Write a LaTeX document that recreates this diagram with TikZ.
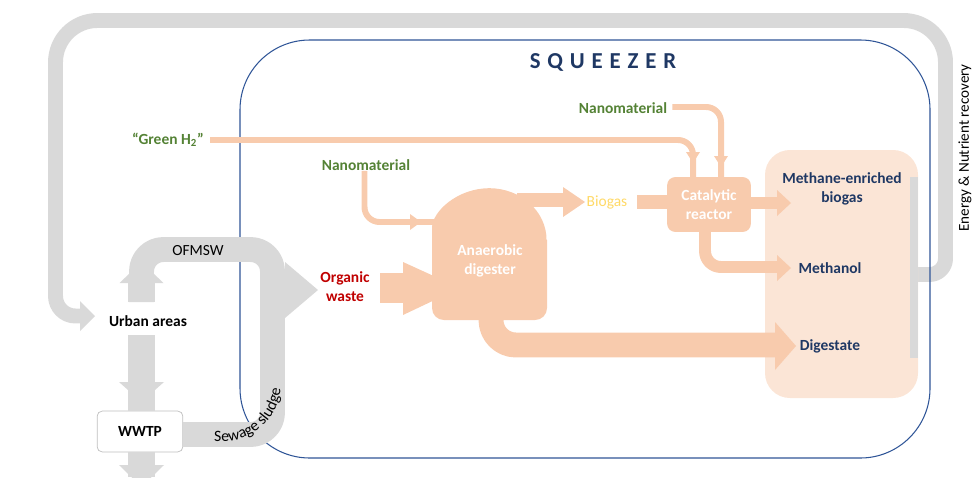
\documentclass[tikz,border=0pt]{standalone}
\usepackage{fontspec}
\setmainfont{Carlito}
\usetikzlibrary{decorations.text}
\definecolor{flowgray}{HTML}{D9D9D9}
\definecolor{peach}{HTML}{F8CBAD}
\definecolor{peachlight}{HTML}{FBE5D6}
\definecolor{leafgreen}{HTML}{548235}
\definecolor{wastered}{HTML}{C00000}
\definecolor{navy}{HTML}{1F3864}
\definecolor{gasyellow}{HTML}{FFD966}
\definecolor{rimblue}{HTML}{2F5597}
\newdimen\px \px=0.5669pt
\newcommand\headright[4]{\fill[#1] (#2) ++(-#3,-#4) -- (#2) -- ++(-#3,#4) -- cycle;}
\newcommand\headdown[4]{\fill[#1] (#2) ++(-#4,-#3) -- (#2) -- ++(#4,-#3) -- cycle;}
\newcommand\headup[4]{\fill[#1] (#2) ++(-#4,#3) -- (#2) -- ++(#4,#3) -- cycle;}
\tikzset{
  lbl/.style={inner sep=0pt, align=center, font=\fontsize{8.8}{10.8}\selectfont\bfseries},
  plain/.style={inner sep=0pt, font=\fontsize{8.8}{10.8}\selectfont},
  band/.style={draw=flowgray, line width=#1\px},
  pipe/.style={draw=peach, line width=#1\px},
}
\begin{document}
\begin{tikzpicture}[x=0.02cm, y=-0.02cm, line join=round]
\useasboundingbox (0,0) rectangle (972,477);
\path
  (945.5,274.5) coordinate (loopR)
  (55.5,316) coordinate (loopL)
  (95,316) coordinate (urbanIn)
  (141.5,302) coordinate (ofmswS)
  (318,290) coordinate (owTip)
  (491,320) coordinate (digS)
  (517,200) coordinate (digNE)
  (437,222) coordinate (digW)
  (460,288) coordinate (owIn)
  ;
% return loop
\draw[band=15, rounded corners=16\px] (910,274.5) -- (loopR) -- (945.5,70);
\draw[band=15, rounded corners=42\px] (945.5,80) -- (945.5,20.5) -- (55.5,20.5) -- (55.5,280);
\draw[band=15, rounded corners=20\px] (55.5,270) -- (loopL) -- (81,316);
\headright{flowgray}{urbanIn}{15}{15}
\node[rotate=90, plain, font=\fontsize{8.6}{10}\selectfont] (recovery) at (965,148) {Energy \& Nutrient recovery};
% squeezer frame
\draw[rimblue, line width=0.6pt, rounded corners=70\px] (240,40) rectangle (930,458);
\node[inner sep=0pt, text=navy, font=\fontsize{13}{15}\selectfont\bfseries\addfontfeatures{LetterSpace=30}] (title) at (603,62) {SQUEEZER};
% products
\fill[peachlight, rounded corners=25\px] (765,150) rectangle (918,398);
\fill[flowgray] (910,177) rectangle (918,358);
% urban side
\node[lbl] (urban) at (148,321) {Urban areas};
\node[draw=black!25, fill=white, rounded corners=5\px, minimum width=86\px, minimum height=41\px, lbl] (wwtp) at (140,431.5) {WWTP};
\draw[band=25, rounded corners=22\px] (ofmswS) -- (141.5,249.5) -- (272.5,249.5) -- (272.5,434.5) -- (wwtp.east |- 0,434.5);
\draw[band=27] (ofmswS) -- (141.5,283);
\headup{flowgray}{141.5,262}{21}{22}
\headright{flowgray}{owTip}{33}{28}
\draw[band=27] (141.5,335) -- (wwtp.north -| 141.5,0);
\headdown{flowgray}{141.5,402}{20}{22.5}
\draw[band=27] (wwtp.south -| 141.5,0) -- (141.5,477);
\headdown{flowgray}{141.5,487}{22}{22.5}
\node[plain] (ofmsw) at (198,251) {OFMSW};
\path[decorate, decoration={text along path, text align=left,
  text={|\fontsize{9}{10}\selectfont|Sewage sludge}}] (214,441) -- (224,441) arc (-90:0:57\px) -- (281,360);
% digester
\node[lbl, text=wastered] (waste) at (345,287) {Organic\\waste};
\fill[peach] (380,273) rectangle (405,303);
\fill[peach] (403,262) -- (owIn) -- (403,315) -- cycle;
\node[lbl, text=leafgreen] (nanoL) at (366,165) {Nanomaterial};
\draw[pipe=6, rounded corners=15\px] (nanoL.south -| 364.5,0) |- (digW);
\headright{peach}{421,222}{11}{8}
\draw[pipe=25, rounded corners=25\px] (digS) |- (776,345);
\headright{peach}{796,346}{21}{24}
\draw[pipe=14] (digNE) -- (565,200);
\headright{peach}{585,202}{22}{15}
\fill[peach, rounded corners=12\px] (547,240) -- (547,320) -- (432,320) -- (432,240) [sharp corners] arc[start angle=180, end angle=0, x radius=57.5\px, y radius=52\px] -- cycle;
\node[lbl, text=white] (digester) at (490,261) {Anaerobic\\digester};
\node[plain, text=gasyellow] (biogas) at (607,203) {Biogas};
% reactor
\node[lbl, text=white, fill=peach, rounded corners=8\px, minimum width=84\px, minimum height=55\px] (reactor) at (709,204.5) {Catalytic\\reactor};
\draw[pipe=15] (637,202) -- (reactor.west |- 0,202);
\node[lbl, text=leafgreen] (green) at (168,140) {“Green H\textsubscript{2}”};
\draw[pipe=6, rounded corners=15\px] (210,140) -| (reactor.north -| 693,0);
\headdown{peach}{693,163}{11}{7}
\node[lbl, text=leafgreen] (nanoT) at (623,108) {Nanomaterial};
\draw[pipe=6, rounded corners=15\px] (nanoT.east |- 0,107) ++(5,0) -| (reactor.north -| 721,0);
\headdown{peach}{721,167}{11}{7}
\draw[pipe=13] (reactor.east |- 0,203) -- (778,203);
\headright{peach}{791,203}{14}{13}
\draw[pipe=12, rounded corners=16\px] (reactor.south -| 705,0) |- (778,267);
\headright{peach}{791,268}{14}{13}
% outputs
\node[lbl, text=navy] (methane) at (842,189) {Methane-enriched\\biogas};
\node[lbl, text=navy] (methanol) at (830,268) {Methanol};
\node[lbl, text=navy] (digestate) at (830,346) {Digestate};
\end{tikzpicture}
\end{document}
